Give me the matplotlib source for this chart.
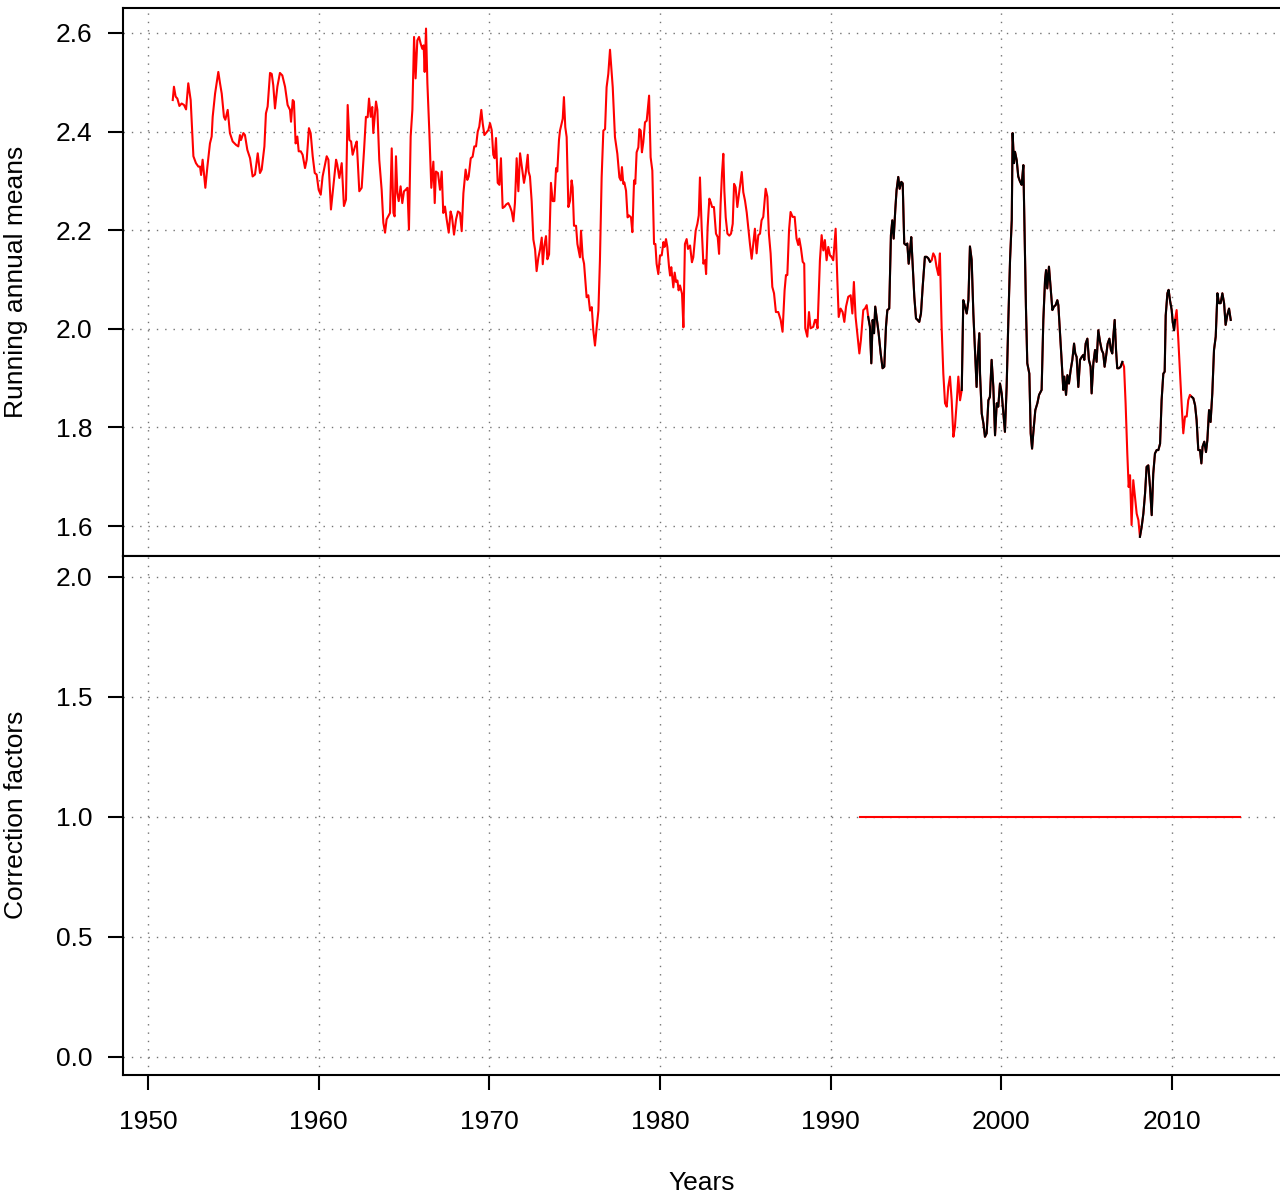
import numpy as np
import matplotlib
matplotlib.use('Agg')
import matplotlib.pyplot as plt

plt.rcParams['font.family'] = ['Liberation Sans', 'DejaVu Sans']

# Running annual means: year, value
years = [
    1951.45, 1951.52, 1951.62, 1951.72, 1951.84, 1951.97, 1952.11, 1952.23, 1952.36, 1952.50,
    1952.66, 1952.81, 1952.95, 1953.05, 1953.11, 1953.20, 1953.36, 1953.48, 1953.63, 1953.73,
    1953.79, 1953.93, 1954.12, 1954.22, 1954.32, 1954.45, 1954.53, 1954.67, 1954.80, 1954.96,
    1955.16, 1955.29, 1955.39, 1955.45, 1955.59, 1955.68, 1955.82, 1955.98, 1956.13, 1956.27,
    1956.43, 1956.56, 1956.66, 1956.82, 1956.91, 1957.01, 1957.15, 1957.25, 1957.34, 1957.44,
    1957.58, 1957.73, 1957.87, 1958.03, 1958.18, 1958.32, 1958.38, 1958.48, 1958.55, 1958.65,
    1958.75, 1958.83, 1958.95, 1959.06, 1959.20, 1959.30, 1959.43, 1959.53, 1959.65, 1959.77,
    1959.88, 1960.00, 1960.12, 1960.23, 1960.47, 1960.57, 1960.72, 1960.86, 1961.02, 1961.09,
    1961.21, 1961.35, 1961.48, 1961.60, 1961.70, 1961.80, 1961.90, 1961.99, 1962.13, 1962.23,
    1962.38, 1962.52, 1962.66, 1962.77, 1962.87, 1962.95, 1963.05, 1963.14,
    1963.20, 1963.36, 1963.44, 1963.55, 1963.69, 1963.79, 1963.89, 1963.98, 1964.18, 1964.28,
    1964.38, 1964.45, 1964.53, 1964.61, 1964.69, 1964.80, 1964.90, 1965.00, 1965.10, 1965.20,
    1965.29, 1965.39, 1965.49, 1965.59, 1965.68, 1965.78, 1965.88, 1965.98, 1966.07, 1966.15,
    1966.21, 1966.29, 1966.37, 1966.48, 1966.60, 1966.72, 1966.80, 1966.87, 1966.99, 1967.11,
    1967.21, 1967.30, 1967.40, 1967.50, 1967.62, 1967.73, 1967.81, 1967.93, 1968.05, 1968.16,
    1968.28, 1968.38, 1968.48, 1968.61, 1968.71, 1968.79, 1968.91, 1969.02, 1969.12, 1969.22,
    1969.32, 1969.41, 1969.53, 1969.61, 1969.71, 1969.80, 1969.94, 1970.04, 1970.14, 1970.23,
    1970.31, 1970.39, 1970.49, 1970.59, 1970.68, 1970.78, 1970.90, 1970.98, 1971.11, 1971.21,
    1971.31, 1971.41, 1971.50, 1971.60, 1971.70, 1971.80, 1971.89, 1972.03, 1972.13, 1972.25,
    1972.30, 1972.38, 1972.48, 1972.58, 1972.68, 1972.77, 1972.87, 1972.97, 1973.07, 1973.13,
    1973.22, 1973.32, 1973.40, 1973.50, 1973.61, 1973.71, 1973.81, 1973.91, 1973.98, 1974.08,
    1974.14, 1974.30, 1974.37, 1974.45, 1974.53, 1974.63, 1974.73, 1974.82, 1974.88, 1974.96,
    1975.08, 1975.16, 1975.31, 1975.37, 1975.47, 1975.55, 1975.70, 1975.80, 1975.90, 1976.00,
    1976.09, 1976.19, 1976.29, 1976.39, 1976.48, 1976.58, 1976.68, 1976.78, 1976.87, 1976.97,
    1977.07, 1977.23, 1977.36, 1977.50, 1977.62, 1977.71, 1977.77, 1977.85, 1977.91, 1978.01,
    1978.10, 1978.18, 1978.30, 1978.38, 1978.48, 1978.55, 1978.63, 1978.73, 1978.79, 1978.87,
    1978.94, 1979.02, 1979.12, 1979.22, 1979.36, 1979.45, 1979.55, 1979.65, 1979.73, 1979.80,
    1979.90, 1980.00, 1980.10, 1980.20, 1980.27, 1980.35, 1980.43, 1980.53, 1980.59, 1980.66,
    1980.78, 1980.86, 1980.94, 1981.02, 1981.09, 1981.17, 1981.29, 1981.37, 1981.46, 1981.56,
    1981.64, 1981.76, 1981.87, 1981.95, 1982.09, 1982.19, 1982.27, 1982.34, 1982.44, 1982.54,
    1982.64, 1982.70, 1982.79, 1982.89, 1982.97, 1983.05, 1983.16, 1983.28, 1983.38, 1983.46,
    1983.55, 1983.63, 1983.71, 1983.77, 1983.85, 1983.95, 1984.06, 1984.16, 1984.26, 1984.34,
    1984.43, 1984.53, 1984.63, 1984.71, 1984.79, 1984.88, 1984.98, 1985.08, 1985.17, 1985.27,
    1985.37, 1985.56, 1985.66, 1985.76, 1985.86, 1985.95, 1986.05, 1986.19, 1986.29, 1986.38,
    1986.48, 1986.58, 1986.68, 1986.79, 1986.93, 1987.07, 1987.18, 1987.30, 1987.38, 1987.46,
    1987.56, 1987.65, 1987.77, 1987.89, 1988.00, 1988.10, 1988.16, 1988.26, 1988.36, 1988.45,
    1988.51, 1988.63, 1988.73, 1988.82, 1988.98, 1989.08, 1989.14, 1989.23, 1989.37, 1989.47,
    1989.57, 1989.66, 1989.76, 1989.86, 1989.96, 1990.06, 1990.15, 1990.19, 1990.29, 1990.39,
    1990.47, 1990.58, 1990.70, 1990.80, 1990.90, 1991.03, 1991.17, 1991.27, 1991.36, 1991.46,
    1991.56, 1991.68, 1991.77, 1991.91, 1992.01, 1992.11, 1992.20, 1992.30, 1992.38, 1992.46,
    1992.54, 1992.61, 1992.71, 1992.81, 1992.93, 1993.04, 1993.14, 1993.24, 1993.32, 1993.43,
    1993.53, 1993.61, 1993.69, 1993.79, 1993.86, 1993.96, 1994.04, 1994.14, 1994.22, 1994.31,
    1994.41, 1994.49, 1994.57, 1994.65, 1994.72, 1994.80, 1994.90, 1995.00, 1995.09, 1995.19,
    1995.29, 1995.39, 1995.52, 1995.62, 1995.72, 1995.82, 1995.92, 1996.01, 1996.11, 1996.20,
    1996.31, 1996.40, 1996.50, 1996.60, 1996.70, 1996.80, 1996.89, 1996.99, 1997.09, 1997.19,
    1997.28, 1997.38, 1997.48, 1997.58, 1997.68, 1997.77, 1997.87, 1997.97, 1998.07, 1998.16,
    1998.26, 1998.36, 1998.46, 1998.55, 1998.61, 1998.71, 1998.75, 1998.85, 1998.95, 1999.04,
    1999.14, 1999.24, 1999.33, 1999.43, 1999.53, 1999.63, 1999.73, 1999.82, 1999.92, 2000.02,
    2000.12, 2000.21, 2000.31, 2000.41, 2000.51, 2000.61, 2000.66, 2000.74, 2000.80, 2000.90,
    2000.99, 2001.09, 2001.19, 2001.29, 2001.35, 2001.44, 2001.52, 2001.64, 2001.72, 2001.80,
    2001.87, 2001.99, 2002.11, 2002.21, 2002.36, 2002.46, 2002.56, 2002.62, 2002.69, 2002.79,
    2002.89, 2002.99, 2003.08, 2003.18, 2003.28, 2003.34, 2003.44, 2003.53, 2003.63, 2003.69,
    2003.79, 2003.87, 2003.96, 2004.06, 2004.16, 2004.26, 2004.33, 2004.41, 2004.51, 2004.61,
    2004.71, 2004.80, 2004.86, 2004.94, 2005.04, 2005.13, 2005.23, 2005.29, 2005.39, 2005.49,
    2005.58, 2005.68, 2005.78, 2005.88, 2005.97, 2006.05, 2006.13, 2006.23, 2006.33, 2006.42,
    2006.50, 2006.56, 2006.64, 2006.72, 2006.79, 2006.89, 2006.99, 2007.09, 2007.19, 2007.28,
    2007.38, 2007.46, 2007.54, 2007.63, 2007.73, 2007.83, 2007.93, 2008.03, 2008.12, 2008.22,
    2008.32, 2008.42, 2008.51, 2008.61, 2008.71, 2008.81, 2008.90, 2009.00, 2009.10, 2009.20,
    2009.30, 2009.39, 2009.49, 2009.57, 2009.63, 2009.73, 2009.80, 2009.88, 2009.98, 2010.04,
    2010.12, 2010.18, 2010.27, 2010.37, 2010.47, 2010.56, 2010.66, 2010.76, 2010.86, 2010.95,
    2011.05, 2011.15, 2011.25, 2011.35, 2011.44, 2011.54, 2011.64, 2011.72, 2011.79, 2011.89,
    2011.99, 2012.07, 2012.17, 2012.26, 2012.36, 2012.46, 2012.56, 2012.66, 2012.75, 2012.85,
    2012.95, 2013.05, 2013.14, 2013.24, 2013.34, 2013.44,
]
means = [
    2.464, 2.491, 2.471, 2.467, 2.452, 2.457, 2.454, 2.445, 2.498, 2.464,
    2.350, 2.336, 2.329, 2.329, 2.312, 2.343, 2.286, 2.329, 2.376, 2.390,
    2.430, 2.477, 2.521, 2.498, 2.477, 2.430, 2.424, 2.444, 2.397, 2.380,
    2.373, 2.370, 2.393, 2.383, 2.397, 2.393, 2.363, 2.346, 2.309, 2.313,
    2.356, 2.316, 2.323, 2.370, 2.437, 2.451, 2.519, 2.517, 2.494, 2.447,
    2.491, 2.519, 2.514, 2.491, 2.454, 2.444, 2.420, 2.464, 2.461, 2.376,
    2.390, 2.360, 2.360, 2.353, 2.326, 2.343, 2.407, 2.397, 2.350, 2.316,
    2.313, 2.282, 2.272, 2.309, 2.350, 2.343, 2.242, 2.289, 2.343, 2.333,
    2.306, 2.336, 2.249, 2.262, 2.454, 2.383, 2.380, 2.353, 2.370, 2.380,
    2.279, 2.286, 2.363, 2.430, 2.429, 2.467, 2.430, 2.450,
    2.397, 2.461, 2.444, 2.343, 2.282, 2.215, 2.195, 2.222, 2.235, 2.366,
    2.235, 2.228, 2.350, 2.275, 2.259, 2.289, 2.255, 2.279, 2.282, 2.286,
    2.201, 2.390, 2.444, 2.592, 2.508, 2.585, 2.592, 2.578, 2.568, 2.575,
    2.521, 2.609, 2.498, 2.403, 2.286, 2.339, 2.255, 2.319, 2.316, 2.282,
    2.319, 2.235, 2.248, 2.222, 2.195, 2.238, 2.228, 2.191, 2.222, 2.238,
    2.235, 2.198, 2.275, 2.323, 2.302, 2.309, 2.346, 2.349, 2.370, 2.370,
    2.400, 2.410, 2.444, 2.417, 2.393, 2.397, 2.403, 2.417, 2.403, 2.353,
    2.346, 2.387, 2.296, 2.292, 2.346, 2.245, 2.248, 2.252, 2.255, 2.248,
    2.238, 2.218, 2.255, 2.346, 2.279, 2.356, 2.333, 2.296, 2.316, 2.353,
    2.319, 2.309, 2.259, 2.181, 2.161, 2.117, 2.144, 2.161, 2.185, 2.131,
    2.168, 2.188, 2.141, 2.151, 2.296, 2.259, 2.259, 2.326, 2.319, 2.383,
    2.402, 2.426, 2.470, 2.409, 2.389, 2.247, 2.260, 2.301, 2.287, 2.209,
    2.209, 2.172, 2.145, 2.199, 2.145, 2.132, 2.064, 2.068, 2.037, 2.044,
    1.997, 1.966, 2.003, 2.037, 2.139, 2.307, 2.402, 2.405, 2.490, 2.517,
    2.566, 2.490, 2.389, 2.355, 2.307, 2.301, 2.328, 2.294, 2.297, 2.280,
    2.226, 2.230, 2.226, 2.196, 2.301, 2.294, 2.358, 2.368, 2.405, 2.402,
    2.358, 2.378, 2.419, 2.422, 2.473, 2.348, 2.321, 2.172, 2.172, 2.132,
    2.111, 2.149, 2.149, 2.176, 2.166, 2.182, 2.166, 2.125, 2.108, 2.125,
    2.084, 2.114, 2.095, 2.098, 2.078, 2.088, 2.071, 2.003, 2.172, 2.182,
    2.162, 2.169, 2.135, 2.145, 2.199, 2.213, 2.230, 2.307, 2.206, 2.132,
    2.139, 2.111, 2.206, 2.264, 2.257, 2.247, 2.247, 2.193, 2.186, 2.152,
    2.253, 2.314, 2.355, 2.280, 2.226, 2.193, 2.189, 2.193, 2.213, 2.294,
    2.287, 2.247, 2.274, 2.294, 2.318, 2.277, 2.260, 2.236, 2.206, 2.172,
    2.142, 2.203, 2.153, 2.190, 2.193, 2.220, 2.227, 2.284, 2.268, 2.193,
    2.153, 2.085, 2.072, 2.034, 2.034, 2.018, 1.994, 2.078, 2.109, 2.109,
    2.200, 2.237, 2.227, 2.227, 2.183, 2.170, 2.183, 2.163, 2.136, 2.132,
    2.001, 1.984, 2.034, 2.001, 2.004, 2.018, 2.018, 2.001, 2.139, 2.190,
    2.159, 2.180, 2.139, 2.166, 2.149, 2.145, 2.139, 2.156, 2.203, 2.099,
    2.024, 2.041, 2.034, 2.014, 2.045, 2.065, 2.068, 2.031, 2.095, 2.024,
    1.991, 1.950, 1.977, 2.038, 2.041, 2.048, 2.024, 2.004, 1.930, 2.018,
    1.991, 2.045, 2.018, 1.991, 1.950, 1.920, 1.923, 2.004, 2.038, 2.041,
    2.190, 2.220, 2.183, 2.244, 2.281, 2.308, 2.284, 2.298, 2.295, 2.173,
    2.170, 2.173, 2.132, 2.159, 2.186, 2.132, 2.065, 2.021, 2.018, 2.014,
    2.031, 2.085, 2.146, 2.146, 2.143, 2.136, 2.139, 2.153, 2.146, 2.126,
    2.109, 2.153, 2.004, 1.909, 1.849, 1.842, 1.882, 1.903, 1.855, 1.781,
    1.801, 1.849, 1.903, 1.855, 1.876, 2.058, 2.045, 2.031, 2.058, 2.167,
    2.140, 2.031, 1.950, 1.882, 1.937, 1.991, 1.909, 1.828, 1.808, 1.781,
    1.788, 1.855, 1.862, 1.937, 1.882, 1.784, 1.849, 1.842, 1.889, 1.869,
    1.828, 1.791, 1.882, 2.018, 2.140, 2.221, 2.397, 2.336, 2.359, 2.342,
    2.309, 2.299, 2.292, 2.332, 2.221, 2.045, 1.930, 1.909, 1.788, 1.757,
    1.788, 1.835, 1.849, 1.866, 1.876, 2.018, 2.099, 2.119, 2.082, 2.126,
    2.082, 2.038, 2.045, 2.048, 2.058, 2.048, 1.991, 1.937, 1.876, 1.903,
    1.866, 1.906, 1.889, 1.916, 1.937, 1.970, 1.950, 1.943, 1.882, 1.937,
    1.943, 1.947, 1.937, 1.970, 1.980, 1.937, 1.923, 1.869, 1.930, 1.957,
    1.933, 1.997, 1.974, 1.957, 1.950, 1.923, 1.943, 1.970, 1.980, 1.957,
    1.950, 1.984, 2.018, 1.957, 1.920, 1.920, 1.923, 1.933, 1.923, 1.849,
    1.747, 1.679, 1.703, 1.602, 1.693, 1.659, 1.625, 1.612, 1.578, 1.598,
    1.625, 1.666, 1.720, 1.723, 1.679, 1.622, 1.706, 1.747, 1.754, 1.754,
    1.767, 1.855, 1.909, 1.913, 2.027, 2.072, 2.079, 2.058, 2.038, 2.014,
    1.997, 2.018, 2.038, 1.977, 1.909, 1.849, 1.788, 1.822, 1.822, 1.855,
    1.866, 1.862, 1.859, 1.845, 1.815, 1.754, 1.754, 1.727, 1.761, 1.771,
    1.750, 1.774, 1.835, 1.811, 1.869, 1.957, 1.984, 2.072, 2.052, 2.052,
    2.072, 2.052, 2.008, 2.028, 2.041, 2.018,
]

# periods where the second (black) series exists
black_periods = [(1992.19, 1995.83), (1997.66, 2007.12), (2008.10, 2010.20), (2011.13, 2013.50)]

# correction factors (all 1.0, with a few short breaks)
cf_years = [1991.72, 1996.42, np.nan, 1996.50, 1997.13, np.nan, 1997.21, 2010.52, np.nan, 2010.60, 2013.98]
cf_values = [1.0, 1.0, np.nan, 1.0, 1.0, np.nan, 1.0, 1.0, np.nan, 1.0, 1.0]

x_ticks = [1950, 1960, 1970, 1980, 1990, 2000, 2010]
top_ticks = [1.6, 1.8, 2.0, 2.2, 2.4, 2.6]
bottom_ticks = [0.0, 0.5, 1.0, 1.5, 2.0]

years = np.array(years)
means = np.array(means)
mask = np.zeros(len(years), dtype=bool)
for a, b in black_periods:
    mask |= (years >= a) & (years <= b)
black = np.where(mask, means, np.nan)

W, H = 1280, 1199
fig = plt.figure(figsize=(W / 100, H / 100), dpi=100)

x0 = 123 / W
xw = (1290 - 123) / W
ax1 = fig.add_axes([x0, (H - 556) / H, xw, (556 - 8) / H])
ax2 = fig.add_axes([x0, (H - 1075) / H, xw, (1075 - 556) / H])

xlim = (1950 - 25 / 17.067, 1950 + (1290 - 148) / 17.067)
grid_kw = dict(color='0.45', linewidth=1.0, linestyle=(0, (1, 5)), zorder=0)
fs = 19

for ax in (ax1, ax2):
    ax.set_xlim(*xlim)
    for t in x_ticks:
        ax.axvline(t, **grid_kw)
    for s in ax.spines.values():
        s.set_linewidth(1.5)
    ax.tick_params(axis='y', length=11, width=1.5, pad=11, labelsize=fs)
    ax.set_xticks(x_ticks)

# top panel
ax1.set_ylim(2.6 - 523 / 493, 2.6 + 25 / 493)
for t in top_ticks:
    ax1.axhline(t, **grid_kw)
ax1.plot(years, means, color='#ff0000', lw=1.5, zorder=2)
ax1.plot(years, black, color='black', lw=1.5, zorder=3)
ax1.set_yticks(top_ticks)
ax1.set_yticklabels(['%.1f' % t for t in top_ticks])
ax1.tick_params(axis='x', bottom=False, labelbottom=False)

# bottom panel
ax2.set_ylim(-18 / 240, 2.0 + 21 / 240)
for t in bottom_ticks:
    ax2.axhline(t, **grid_kw)
ax2.plot(cf_years, cf_values, color='#ff0000', lw=1.5, zorder=2)
ax2.set_yticks(bottom_ticks)
ax2.set_yticklabels(['%.1f' % t for t in bottom_ticks])
ax2.set_xticklabels([str(t) for t in x_ticks])
ax2.tick_params(axis='x', length=11, width=1.5, pad=14.5, labelsize=fs)

fig.text(16 / W, 1 - 282 / H, 'Running annual means', rotation=90,
         ha='center', va='center', fontsize=fs)
fig.text(16 / W, 1 - 815 / H, 'Correction factors', rotation=90,
         ha='center', va='center', fontsize=fs)
fig.text(702 / W, 1 - 1183 / H, 'Years', ha='center', va='center', fontsize=fs)

fig.savefig('out.png', dpi=100)
